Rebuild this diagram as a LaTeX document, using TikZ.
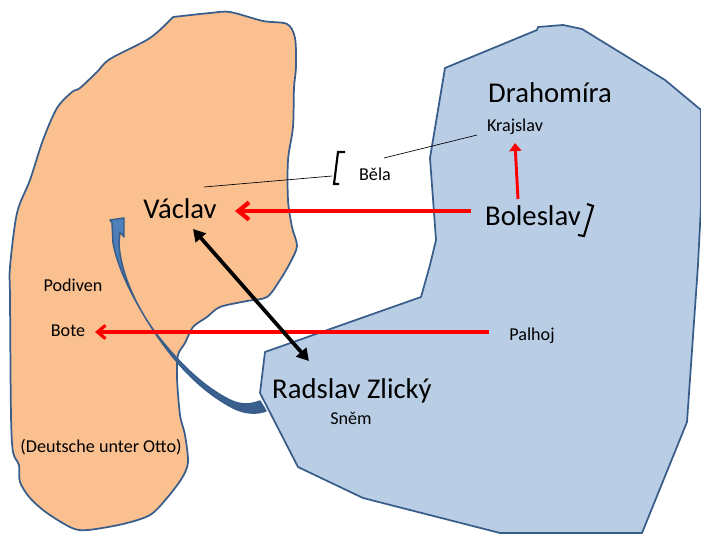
\documentclass[tikz,border=0pt]{standalone}
\usepackage{fontspec}
\setmainfont{Carlito}
\usetikzlibrary{arrows.meta,positioning}
\definecolor{lobefill}{RGB}{250,192,144}
\definecolor{realmfill}{RGB}{185,205,229}
\definecolor{edgeblue}{RGB}{56,93,138}
\definecolor{bendblue}{RGB}{79,129,189}
\tikzset{
    region/.style={draw=edgeblue, line width=1.3pt, line join=round},
    bigname/.style={inner sep=0pt, font=\fontsize{21.5}{24}\selectfont},
    smallname/.style={inner sep=0pt, font=\fontsize{13.6}{16}\selectfont},
    redlink/.style={draw=red, line width=3.2pt, -{Straight Barb[length=8pt,width=13pt]}},
    thinred/.style={draw=red, line width=2.4pt, -{Straight Barb[length=6pt,width=10pt]}},
    uplink/.style={draw=red, line width=2.2pt, -{Triangle[length=6pt,width=9pt]}},
    blacklink/.style={draw=black, line width=2.8pt, {Triangle[length=9pt,width=10pt]}-{Triangle[length=9pt,width=10pt]}},
    pointer/.style={draw=black, line width=0.5pt},
    bracket/.style={draw=black, line width=1.6pt},
    bendband/.style={top color=bendblue, bottom color=edgeblue, draw=edgeblue, line width=1.1pt, line join=round}
}
\begin{document}
\begin{tikzpicture}[x=0.75pt,y=-0.75pt]
    \useasboundingbox (0,0) rectangle (701,535);
    % left lobe
    \draw[region, fill=lobefill] plot[smooth, tension=0.5] coordinates {
        (173,17) (210,13) (230,12) (263,21) (287,24) (295,38) (296,67) (294,88) (293,127) (288,160) (288,200) (292,227) (297,246) (290,263) (280,280) (267,297) (247,301) (220,307) (207,317) (193,327) (185,343) (178,355) (177,378) (180,415) (185,435) (188,462) (182,478) (167,498) (150,515) (123,524) (88,530) (72,528) (47,513) (30,498) (20,482) (19,465) (13,452) (11,415) (10,298) (10,267) (17,213) (30,180) (43,140) (57,108) (72,92) (80,88) (97,72) (110,59) (150,38) (173,17)};
    % right realm
    \draw[region, fill=realmfill] (445,68) -- (537,30) -- (538,27) -- (563,25) -- (582,29) -- (665,80) -- (701,110) -- (701,205) -- (698,265) -- (687,422) -- (642,533) -- (500,533) -- (363,498) -- (298,467) -- (260,393) -- (265,352) -- (421,297) -- (430,265) -- (436,240) -- (430,158) -- cycle;
    % curved band
    \path[bendband] (266,411) .. controls (255,415) and (243,413) .. (233,408) .. controls (195,388) and (170,355) .. (155,333) .. controls (130,295) and (117,265) .. (113,243) -- (112,223) -- (110,220) -- (124,218) -- (124,237) -- (120,232) -- (119,243) .. controls (120,270) and (135,305) .. (155,332) .. controls (175,358) and (200,385) .. (230,400) .. controls (240,405) and (250,405) .. (260,401) -- cycle;
    % names
    \node[bigname] (vaclav) at (180,209) {Václav};
    \node[bigname] (drahomira) at (550,93) {Drahomíra};
    \node[bigname] (boleslav) at (533,216) {Boleslav};
    \node[bigname] (radslav) at (352,391) {Radslav Zlický};
    \node[smallname] (krajslav) at (515,127) {Krajslav};
    \node[smallname] (bela) at (375,174) {Běla};
    \node[smallname] (podiven) at (73,285) {Podiven};
    \node[smallname] (bote) at (68,331) {Bote};
    \node[smallname] (palhoj) at (532,336) {Palhoj};
    \node[smallname] (snem) at (351,418) {Sněm};
    \node[smallname] (otto) at (101,447) {(Deutsche unter Otto)};
    % anchors for the free ends
    \coordinate (belaleft) at (204,187);
    \coordinate (belaright) at (332,176);
    \coordinate (krajleft) at (384,158);
    \coordinate (krajright) at (477,135);
    \coordinate (boltail) at (471,211);
    \coordinate (vacarrow) at (235,211);
    \coordinate (kraarrow) at (515,143);
    \coordinate (boltop) at (518,199);
    \coordinate (pathead) at (95,332);
    \coordinate (pattail) at (489,332);
    \coordinate (blacka) at (193,229);
    \coordinate (blackb) at (309,361);
    % connectors
    \draw[pointer] (belaleft) -- (belaright);
    \draw[pointer] (krajleft) -- (krajright);
    \draw[redlink] (boltail) -- (vacarrow);
    \draw[thinred] (pattail) -- (pathead);
    \draw[uplink] (boltop) -- (kraarrow);
    \draw[blacklink] (blacka) -- (blackb);
    % brackets
    \draw[bracket] (345,152) -- (338,152) -- (334,184) -- (339,184);
    \draw[bracket] (587,204) -- (593,206) -- (584,236) -- (578,235);
\end{tikzpicture}
\end{document}
